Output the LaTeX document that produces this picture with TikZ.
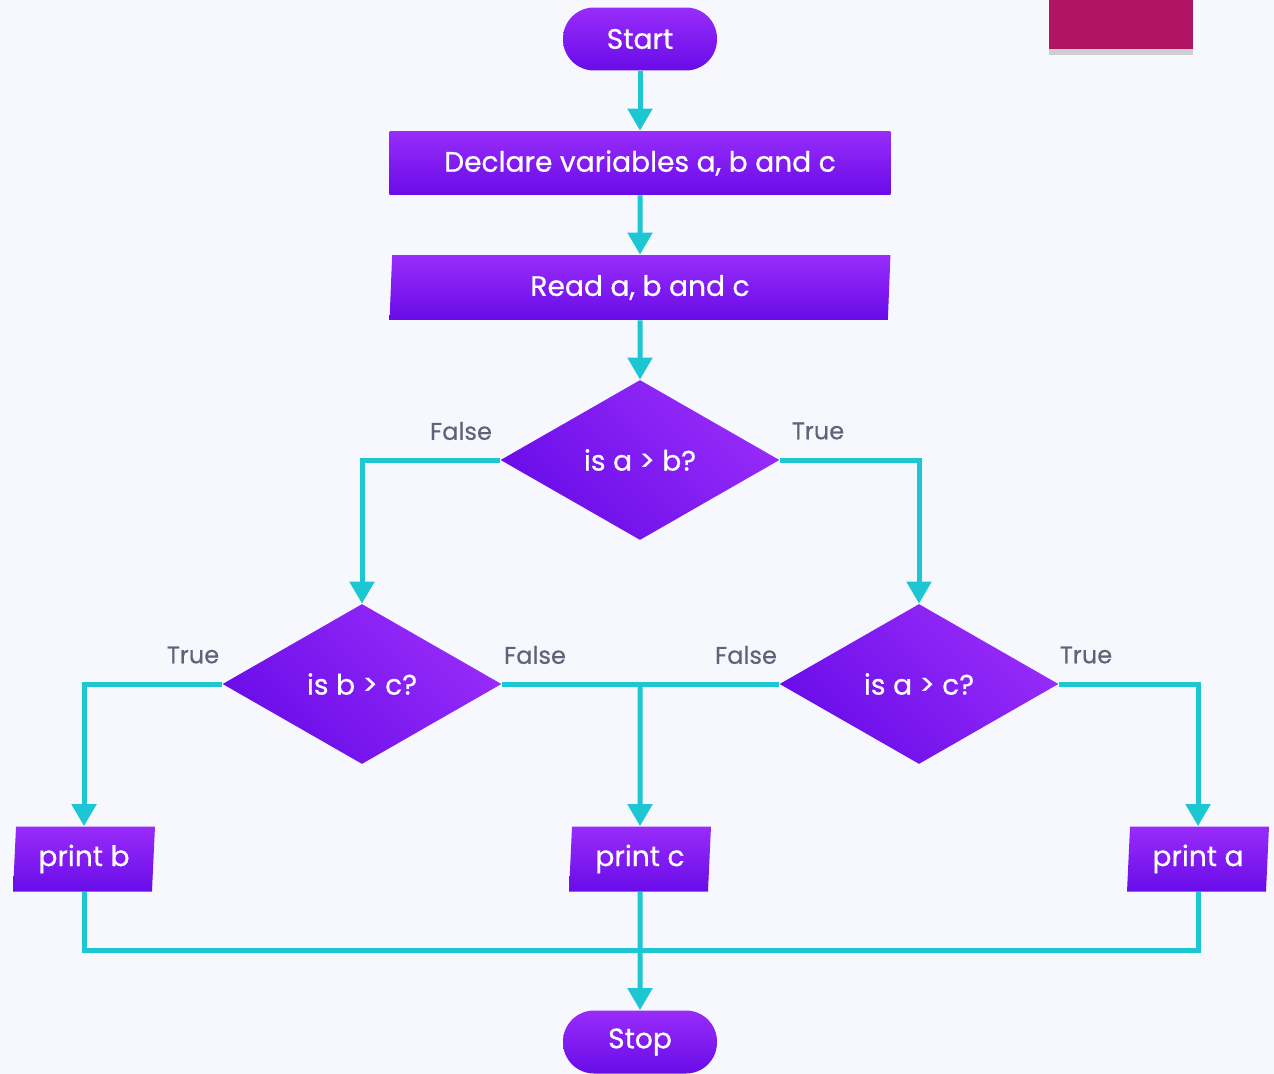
\documentclass[tikz,border=0pt]{standalone}
\usepackage{fontspec}
\setmainfont{Poppins}
\newfontfamily\boxfont{Poppins}[FakeBold=0.7]
\newfontfamily\answerfont{Poppins}[FakeBold=0.4]
\usetikzlibrary{shapes.geometric, arrows.meta, positioning, shadows}
\definecolor{bgcol}{HTML}{F7F8FD}
\definecolor{pltop}{HTML}{982CFA}
\definecolor{plbot}{HTML}{690CE8}
\definecolor{linecol}{HTML}{1CC6D2}
\definecolor{labcol}{HTML}{5F6379}
\definecolor{tabcol}{HTML}{B01462}
\tikzset{
	block/.style={top color=pltop, bottom color=plbot, text=white, font=\boxfont\fontsize{16}{19}\selectfont, inner sep=0pt},
	terminal/.style={block, rounded corners=0.62cm, minimum width=3.08cm, minimum height=1.26cm},
	process/.style={block, minimum width=10.02cm, minimum height=1.28cm},
	io/.style={block, trapezium, trapezium left angle=84, trapezium right angle=96, trapezium stretches body, minimum height=1.3cm},
	decision/.style={block, diamond, aspect=1.74, minimum width=5.58cm, minimum height=3.2cm, shading angle=-45},
	flow/.style={draw=linecol, line width=0.1cm},
	arrow/.style={flow, -{Triangle[width=0.48cm, length=0.44cm]}},
	answer/.style={text=labcol, font=\answerfont\fontsize{13.7}{16}\selectfont},
	tab/.style={fill=tabcol, minimum width=2.88cm, minimum height=1.1cm, drop shadow={opacity=0.35, shadow xshift=0pt, shadow yshift=-3pt}}
}
\begin{document}
\begin{tikzpicture}[x=0.02cm, y=-0.02cm]
	\fill[bgcol] (0,0) rectangle (1274,1074);
	\useasboundingbox (0,0) rectangle (1274,1074);
	
	\node[tab] (tabbox) at (1121,22) {};
	
	\node[terminal] (start) at (640,39) {Start};
	\node[process] (declare) at (640,163) {Declare variables a, b and c};
	\node[io, minimum width=10.02cm] (read) at (640,287.5) {Read a, b and c};
	
	\node[decision] (cmpab) at (640,460) {is a > b?};
	\node[decision] (cmpbc) at (362,684) {is b > c?};
	\node[decision] (cmpac) at (919,684) {is a > c?};
	
	\node[io, minimum width=2.84cm] (printb) at (84,859) {print b};
	\node[io, minimum width=2.84cm] (printc) at (640,859) {print c};
	\node[io, minimum width=2.84cm] (printa) at (1198,859) {print a};
	
	\node[terminal] (stop) at (640,1042) {Stop};
	
	\node[answer] (abno) at (461,431) {False};
	\node[answer] (abyes) at (818,431) {True};
	\node[answer] (bcyes) at (193,655) {True};
	\node[answer] (bcno) at (535,655) {False};
	\node[answer] (acno) at (746,655) {False};
	\node[answer] (acyes) at (1086,655) {True};
	
	\coordinate (split) at (640,684);
	\coordinate (merge) at (640,950);
	
	\draw[arrow] (start) -- (declare);
	\draw[arrow] (declare) -- (read);
	\draw[arrow] (read) -- (cmpab);
	
	\draw[arrow] (cmpab) -| (cmpbc);
	\draw[arrow] (cmpab) -| (cmpac);
	
	\draw[arrow] (cmpbc) -| (printb);
	\draw[arrow] (cmpac) -| (printa);
	\draw[flow] (cmpbc) -- (cmpac);
	\draw[arrow] (split) -- (printc);
	
	\draw[flow] (printb) |- (merge) -| (printa);
	\draw[arrow] (printc) -- (stop);
\end{tikzpicture}
\end{document}
